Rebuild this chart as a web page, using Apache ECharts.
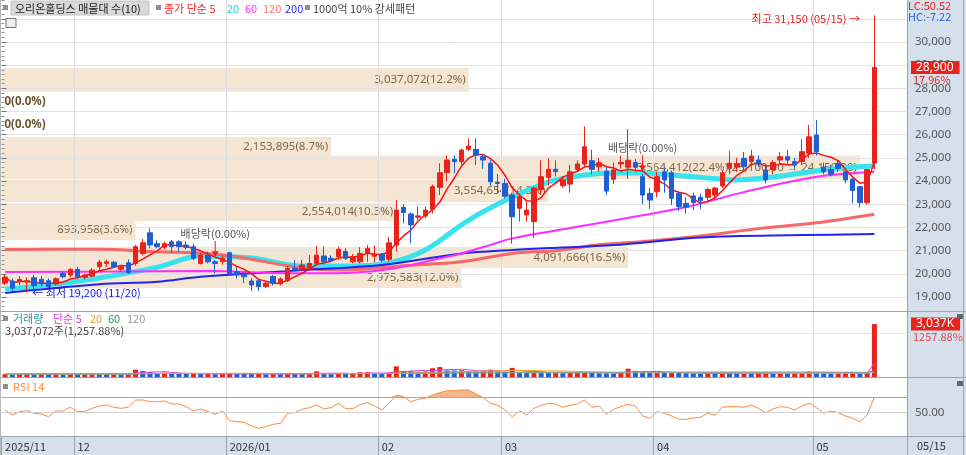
<!DOCTYPE html>
<html>
<head>
<meta charset="utf-8">
<script src="https://cdn.jsdelivr.net/npm/echarts@6.0.0/dist/echarts.min.js"></script>
<style>
html,body{margin:0;padding:0;background:#fff;overflow:hidden}
#chart{width:966px;height:455px}
</style>
</head>
<body>
<div id="chart"></div>
<script>
// ================= DATA =================
const monthLabels = ['2025/11','12','2026/01','02','03','04','05'];
const monthNumbers = [11,12,1,2,3,4,5];
const monthDays = [
  [17,18,19,20,21,24,25,26,27,28],
  [1,2,3,4,5,8,9,10,11,12,15,16,17,18,19,22,23,24,26,29,30],
  [2,5,6,7,8,9,12,13,14,15,16,19,20,21,22,23,26,27,28,29,30],
  [2,3,4,5,6,9,10,11,12,13,19,20,23,24,25,26,27],
  [3,4,5,6,9,10,11,12,13,16,17,18,19,20,23,24,25,26,27,30,31],
  [1,2,3,6,7,8,9,10,13,14,15,16,17,20,21,22,23,24,27,28,29,30],
  [4,6,7,8,11,12,13,14,15]
];
const open = [
19600,19690,19690,19650,19830,19760,19700,19560,20020,19950,
20190,19850,19900,20310,20450,20500,20200,20480,20450,20880,
21770,21300,21150,21380,21380,21240,21170,20450,20810,20520,
20520,20910,20090,20020,19690,19700,19450,19880,19580,19700,
20240,20170,20240,20450,20770,20670,20740,20960,20520,20520,
20880,20760,20850,20630,21240,22870,22580,22440,22490,22780,
23730,24360,24940,24840,25370,25370,25050,24770,23950,23900,
23400,22830,22540,22250,23630,24160,24510,23800,23870,24510,
24740,24880,24620,24430,24080,24740,24600,24800,24190,23470,
23540,24400,24360,23470,23040,23360,23300,23300,23400,23790,
24550,24600,24980,24840,24910,24480,24500,24910,25050,24840,
24840,25200,25990,24600,24500,24770,24400,24080,23760,23070,
24780];
const high = [
19950,19800,19900,19850,19950,19900,19800,19850,20100,20250,
20300,20000,20250,20600,20600,20550,20350,20630,21250,21500,
21960,21450,21400,21460,21450,21400,21300,20900,20950,20600,
20800,20950,20300,20100,19800,19750,19650,19950,19850,20350,
20600,20600,20810,21200,21170,20800,21170,21100,20850,21150,
21240,21230,20900,21600,23180,23000,22650,22900,22900,23850,
24770,25100,25100,25400,25840,25850,25150,24900,24300,24100,
23500,23450,23180,23760,24900,24980,24900,24200,24700,24900,
26360,25350,25000,24600,24800,25100,26250,24950,24300,23700,
24400,24600,24450,23550,23300,23500,23450,23700,23750,24450,
25300,25000,25250,25340,25100,24700,24900,25250,25350,25000,
25800,26420,26640,24800,24700,24900,24450,24150,23800,24500,
31150];
const low = [
19520,19250,19500,19200,19300,19450,19350,19500,19800,19850,
19800,19750,19850,20150,20300,20250,20100,20000,20350,20800,
21100,21100,21050,20900,20950,21050,20600,20400,20450,20020,
20400,19950,19800,19600,19250,19250,19400,19500,19500,19650,
20100,20100,20150,20350,20400,20500,20600,20600,20450,20450,
20520,20500,20500,20520,20950,22180,21310,22300,22400,22600,
23400,24000,24340,24700,25300,24700,24530,23800,23500,23250,
21300,22250,22250,21550,23400,23800,24200,23700,23500,24400,
24600,24280,24400,23400,23870,24550,24100,24400,23000,22800,
23300,23500,22970,22700,22600,22750,22800,23100,23200,23700,
24300,24400,24450,24700,24600,23900,24300,24750,24750,24550,
24700,25000,25100,24300,24200,24400,23900,23040,22870,22980,
24500];
const close = [
19860,19380,19760,19700,19490,19600,19440,19790,19870,20190,
19850,19950,20160,20500,20520,20310,20300,20050,21170,21340,
21240,21170,21300,21170,21170,21140,20670,20810,20520,20450,
20670,20020,19950,19870,19520,19450,19590,19590,19780,20240,
20170,20380,20450,20810,20520,20570,21060,20670,20740,20880,
21100,20850,20590,21340,22750,22640,22110,22500,22750,23760,
24360,24910,24840,25340,25510,25120,24910,23970,23900,23350,
22460,23330,22750,23700,24190,24510,24410,24050,24400,24740,
25480,24510,24790,23570,24480,24810,24900,24600,23400,23180,
24190,24050,23260,22900,22870,23070,23150,23640,23700,24360,
24770,24750,24620,25080,24740,24050,24800,25050,24910,24700,
25270,25910,25270,24400,24300,24550,24050,23590,23070,24500,
28900];
const volume = [
165000,150000,172000,190000,160000,175000,168000,185000,152000,178000,
150000,162000,190000,175000,168000,182000,160000,172000,420000,340000,
290000,230000,250000,205000,192000,180000,195000,170000,185000,160000,
172000,210000,185000,175000,168000,182000,160000,172000,158000,190000,
176000,168000,182000,325000,210000,185000,198000,176000,188000,270000,
275000,220000,180000,240000,610000,340000,330000,300000,320000,500000,
570000,380000,375000,385000,340000,300000,350000,420000,320000,290000,
520000,260000,230000,280000,250000,235000,245000,220000,230000,240000,
280000,230000,215000,205000,195000,220000,475000,350000,300000,240000,
280000,250000,260000,230000,215000,200000,190000,205000,185000,210000,
195000,182000,200000,190000,205000,210000,185000,200000,190000,205000,
220000,300000,290000,230000,210000,220000,240000,250000,220000,241444,
3037072];
const rsi14 = [
53.4,46.6,51.1,52.4,48.9,48.0,44.3,52.0,52.0,57.0,
51.1,51.1,55.6,58.8,60.1,57.0,55.6,57.0,66.9,66.9,
64.6,64.6,65.5,61.5,61.5,57.9,52.0,54.7,51.1,47.5,
52.0,38.9,37.6,36.7,31.8,28.6,30.9,34.0,35.4,48.9,
49.8,54.3,56.5,60.1,54.7,56.5,62.4,55.2,55.2,60.6,
63.3,58.8,53.4,62.4,73.6,71.4,64.6,67.8,69.2,73.6,
76.8,79.5,79.5,80.4,80.4,75.0,70.0,62.4,59.7,53.4,
44.3,52.0,46.6,55.6,59.7,62.4,61.5,57.0,59.7,61.5,
66.9,57.0,58.8,47.5,54.3,57.9,61.0,58.8,45.3,42.1,
51.1,48.9,45.3,40.8,40.8,42.6,43.5,48.9,46.2,57.0,
57.9,57.9,57.0,60.1,55.6,49.8,54.7,57.9,57.0,53.4,
58.8,62.4,56.5,48.9,52.0,49.8,45.3,42.1,37.4,46.6,
71.0];
// moving averages: [candle index, price]
const ma20Pts = [[0,19345],[6,19520],[13,19820],[21,20290],[27,20770],[34,20680],[41,20340],[48,20340],[53,20470],[58,21030],[64,22320],[70,23310],[75,23960],[80,24260],[84,24350],[88,24350],[92,24260],[97,24130],[101,24050],[106,24180],[111,24390],[115,24560],[120,24650]];
const ma60Pts = [[0,20080],[15,20100],[28,20120],[40,20020],[48,20050],[54,20250],[59,20600],[63,20880],[67,21250],[70,21530],[76,21870],[84,22300],[94,22880],[101,23450],[108,23950],[113,24230],[120,24400]];
const ma120Pts = [[0,21050],[13,21060],[21,20950],[27,20900],[32,20740],[41,20250],[47,20170],[55,20350],[63,20520],[70,20880],[76,21000],[82,21250],[89,21420],[96,21630],[104,21950],[112,22200],[120,22570]];
const ma200Pts = [[0,19170],[4,19300],[13,19550],[21,19660],[27,19875],[41,20160],[52,20380],[63,20880],[70,21030],[77,21140],[84,21240],[96,21565],[110,21670],[120,21715]];
// 10% strong-pattern bands: label, upper price, lower price, last candle index
const bandLabels = ['3,037,072(12.2%)','0(0.0%)','0(0.0%)','2,153,895(8.7%)','3,564,412(22.4%)(25,100.00 → 24,150.00)','3,554,654(14.3%)','2,554,014(10.3%)','893,958(3.6%)','4,091,666(16.5%)','2,975,583(12.0%)'];
const bandTop    = [28880,27420,26430,25900,25100,24050,23050,22320,21160,20290];
const bandBottom = [27840,27405,26415,25040,24080,23100,22280,21460,20250,19390];
const bandEnd    = [64,6,6,45,118,75,54,18,86,63];
const dividendDays = [29,88];
const lcText = 'LC:50.52', hcText = 'HC:-7.22';

// ================= BUILD =================
const RED = '#e8231b', BLUE = '#1f5fd1';
const FONT = '"Noto Sans CJK KR", "Noto Sans", sans-serif';
const cats = [];
const monthStart = {};
monthDays.forEach((days, m) => {
  monthStart[cats.length] = monthLabels[m];
  days.forEach(d => cats.push(String(monthNumbers[m]).padStart(2,'0') + '/' + String(d).padStart(2,'0')));
});
const N = close.length;
const PAD = 4;
for (let k = 1; k <= PAD; k++) cats.push(' '.repeat(k));
const isMonth = i => Object.prototype.hasOwnProperty.call(monthStart, i);
const fmt = v => Math.round(v).toLocaleString('en-US');

function sma(arr, n) {
  return arr.map((_, i) => {
    const s = arr.slice(Math.max(0, i - n + 1), i + 1);
    return Math.round(s.reduce((a, b) => a + b, 0) / s.length);
  });
}
const ma5 = sma(close, 5);
const ohlc = open.map((o, i) => [o, close[i], low[i], high[i]]);
const volData = volume.map((v, i) => ({ value: v, itemStyle: { color: (i > 0 && v < volume[i-1]) ? BLUE : RED } }));

let hiIdx = 0, loIdx = 0;
high.forEach((h, i) => { if (h > high[hiIdx]) hiIdx = i; });
low.forEach((l, i) => { if (l < low[loIdx]) loIdx = i; });
const chgPct = ((close[N-1] / close[N-2] - 1) * 100).toFixed(2) + '%';
const volPct = (volume[N-1] / volume[N-2] * 100);
const volPctTxt = volPct.toFixed(2);

const bandData = bandLabels.map((lab, k) => [
  { xAxis: 0, yAxis: bandTop[k], name: lab, label: lab.startsWith('0(') ? { fontWeight: 'bold', color: '#6a5530' } : undefined },
  { xAxis: bandEnd[k] + 0.5, yAxis: bandBottom[k] }
]);

const arrowDown = 'path://M3.4,0 L4.6,0 L4.6,9 L8,9 L4,14 L0,9 L3.4,9 Z';
const mpData = [
  { coord: [hiIdx, high[hiIdx]], symbol: 'rect', symbolSize: 1, itemStyle: { color: 'rgba(0,0,0,0)' },
    label: { show: true, position: 'left', distance: 14, offset: [0, 3], color: RED, fontSize: 11, fontFamily: FONT,
      formatter: '최고 ' + fmt(high[hiIdx]) + ' (' + cats[hiIdx] + ') →' } },
  { coord: [loIdx, low[loIdx]], symbol: 'rect', symbolSize: 1, itemStyle: { color: 'rgba(0,0,0,0)' },
    label: { show: true, position: 'right', distance: 5, color: '#1414e0', fontSize: 11, fontFamily: FONT,
      formatter: '← 최저 ' + fmt(low[loIdx]) + ' (' + cats[loIdx] + ')' } }
];
dividendDays.forEach(d => mpData.push({
  coord: [d, high[d]], symbol: arrowDown, symbolSize: [7, 16], symbolOffset: [0, -11], itemStyle: { color: RED },
  label: { show: true, position: 'top', distance: 2, color: '#555', fontSize: 11, fontFamily: FONT, formatter: '배당락(0.00%)' }
}));

function catAxis(gridIndex, labels) {
  return {
    type: 'category', gridIndex, data: cats, boundaryGap: true, z: 2,
    axisLine: { show: false },
    axisTick: labels ? { show: true, interval: (i) => isMonth(i), length: 19, lineStyle: { color: '#9aa3ad' } } : { show: false },
    axisLabel: labels ? { show: true, interval: (i) => isMonth(i), formatter: (v, i) => monthStart[i] || '', align: 'left', color: '#333', fontSize: 11, margin: 5, fontFamily: FONT } : { show: false },
    splitLine: { show: true, interval: (i) => isMonth(i) && i > 0, lineStyle: { color: '#dcdcdc' } }
  };
}
const gridColors = ['rgba(0,0,0,0)'];
for (let k = 0; k < 14; k++) gridColors.push('#e3e3e3');

function lineSeries(name, data, color, width, extra) {
  return Object.assign({ type: 'line', name, xAxisIndex: 0, yAxisIndex: 0, data, symbol: 'none', silent: true, z: 3,
    lineStyle: { color, width }, itemStyle: { color } }, extra || {});
}

const volMA = [[5,'#e13de1'],[20,'#f0a020'],[60,'#2a9a50'],[120,'#a8a8a8']].map(([n, c]) => ({
  type: 'line', xAxisIndex: 1, yAxisIndex: 1, data: sma(volume, n), symbol: 'none', silent: true, z: 4,
  lineStyle: { color: c, width: 1 }
}));

const T = (x, y, text, color, extra) => Object.assign({ type: 'text', x, y, z: 50, silent: true,
  style: Object.assign({ text, fill: color, font: '11px ' + FONT, verticalAlign: 'middle', textVerticalAlign: 'middle' }, extra || {}) });
const R = (x, y, w, h, fill, z, stroke) => ({ type: 'rect', z: (z === undefined ? 50 : z), silent: true, shape: { x, y, width: w, height: h }, style: { fill, stroke: stroke || null } });
const L = (x1, y1, x2, y2, c) => ({ type: 'line', z: 40, silent: true, shape: { x1, y1, x2, y2 }, style: { stroke: c || '#9ca3ab', lineWidth: 1 } });

const graphics = [
  R(907, 0, 59, 455, '#d6e0ed', -10),
  R(0, 436.5, 966, 19, '#d6e0ed', -10),
  L(0, 311.5, 966, 311.5), L(0, 377.5, 966, 377.5), L(0, 436.5, 966, 436.5),
  L(907.5, 0, 907.5, 455), L(963.5, 0, 963.5, 455), L(0.5, 0, 0.5, 455, '#b8b8b8'),
  // top legend
  R(3, 5, 5, 5, '#8f8f8f'), R(11, 1, 138, 14, '#d9d9d9', 49, '#c4c4c4'),
  T(15, 8.5, '오리온홀딩스 매물대 수(10)', '#222'),
  R(156, 5, 5, 5, '#8f8f8f'),
  T(164, 8.5, '종가 단순 5', '#ff2020'), T(227, 8.5, '20', '#19d7e6'), T(245, 8.5, '60', '#ff2bff'),
  T(263, 8.5, '120', '#ff7070'), T(285, 8.5, '200', '#2a2aff'),
  R(305, 5, 5, 5, '#8f8f8f'), T(313, 8.5, '1000억 10% 강세패턴', '#444'),
  R(6, 18.5, 10, 9, '#eeeeee', 50, '#777'),
  // volume legend
  R(3, 316, 5, 5, '#8f8f8f'),
  T(13, 318.5, '거래량', '#2b9b9b'), T(53, 318.5, '단순 5', '#e13de1'), T(90, 318.5, '20', '#f0a020'),
  T(108, 318.5, '60', '#2a9a50'), T(127, 318.5, '120', '#999'),
  T(5, 330.5, fmt(volume[N-1]) + '주(' + volPct.toLocaleString('en-US', { minimumFractionDigits: 2, maximumFractionDigits: 2 }) + '%)', '#444'),
  // rsi legend
  R(3, 384, 5, 5, '#8f8f8f'), T(13, 387, 'RSI 14', '#ff8c3a'),
  // right side
  T(908, 6, lcText, RED), T(908, 16.5, hcText, '#2b63d6'),
  T(913, 79.5, chgPct, RED),
  T(913, 336.5, volPctTxt + '%', '#e84a4a'),
  R(957, 314, 6, 5, '#666'), R(957, 381, 6, 5, '#666'),
  T(917, 446, cats[N-1], '#333')
];

const boxLabel = (text) => ({ show: true, position: 'end', distance: 4, formatter: text, backgroundColor: RED, color: '#fff',
  padding: [1, 6, 0, 5], fontSize: 12, fontFamily: 'Noto Sans' });

const option = {
  animation: false,
  backgroundColor: '#ffffff',
  textStyle: { fontFamily: FONT },
  grid: [
    { left: 1.5, width: 905.5, top: -4.36, height: 324.56, outerBoundsMode: 'none', containLabel: false },
    { left: 1.5, width: 905.5, top: 311, height: 66, outerBoundsMode: 'none', containLabel: false },
    { left: 1.5, width: 905.5, top: 378, height: 58, outerBoundsMode: 'none', containLabel: false }
  ],
  xAxis: [
    catAxis(0, false), catAxis(1, false), catAxis(2, true),
    { type: 'value', gridIndex: 0, min: 0, max: cats.length, show: false }
  ],
  yAxis: [
    { type: 'value', gridIndex: 0, position: 'right', min: 18000, max: 32000, interval: 1000, z: 2,
      axisLine: { show: false },
      axisTick: { show: true, length: 5, lineStyle: { color: '#6b7380' } },
      minorTick: { show: true, splitNumber: 5, length: 3, lineStyle: { color: '#8a929c' } },
      axisLabel: { show: true, margin: 8, color: '#555', fontSize: 11.5, fontFamily: 'Noto Sans',
        formatter: (v) => (v >= 19000 && v <= 30000) ? fmt(v) : '' },
      splitLine: { show: true, lineStyle: { color: gridColors } } },
    { type: 'value', gridIndex: 1, position: 'right', min: 0, max: 3780000, interval: 2500000,
      axisLine: { show: false }, axisTick: { show: false }, axisLabel: { show: false },
      splitLine: { show: true, lineStyle: { color: '#e6e6e6' } } },
    { type: 'value', gridIndex: 2, position: 'right', min: 18.2, max: 96.6,
      axisLine: { show: false }, axisTick: { show: false }, axisLabel: { show: false }, splitLine: { show: false } }
  ],
  graphic: { elements: graphics },
  series: [
    { type: 'line', name: 'bands', xAxisIndex: 3, yAxisIndex: 0, data: [[-5, 20000]], symbol: 'none', silent: true, z: 1,
      lineStyle: { opacity: 0 },
      markArea: { silent: true, itemStyle: { color: '#f4e6d3' },
        label: { show: true, position: 'insideRight', distance: 3, color: '#7d6946', fontSize: 11.5, fontFamily: 'Noto Sans' },
        data: bandData } },
    lineSeries('MA20', ma20Pts, '#36e3ee', 5, { smooth: 0.35 }),
    lineSeries('MA120', ma120Pts, '#f86868', 3, { smooth: 0.35 }),
    lineSeries('MA200', ma200Pts, '#2323ee', 2, { smooth: 0.35 }),
    lineSeries('MA60', ma60Pts, '#ff2bff', 2, { smooth: 0.35 }),
    lineSeries('MA5', ma5, '#ff1010', 1.5, {}),
    { type: 'candlestick', name: 'price', xAxisIndex: 0, yAxisIndex: 0, data: ohlc, barWidth: 5, z: 4, silent: true,
      itemStyle: { color: RED, color0: BLUE, borderColor: RED, borderColor0: BLUE, borderWidth: 1 },
      markPoint: { silent: true, data: mpData },
      markLine: { silent: true, symbol: 'none', lineStyle: { color: 'rgba(0,0,0,0)', width: 1 },
        label: boxLabel(fmt(close[N-1])),
        data: [{ yAxis: close[N-1] }] } },
    { type: 'bar', name: 'volume', xAxisIndex: 1, yAxisIndex: 1, data: volData, barWidth: 5, z: 3, silent: true,
      markLine: { silent: true, symbol: 'none', lineStyle: { color: 'rgba(0,0,0,0)', width: 1 },
        label: boxLabel(fmt(volume[N-1] / 1000) + 'K'),
        data: [{ yAxis: volume[N-1] }] } },
    ...volMA,
    { type: 'line', xAxisIndex: 2, yAxisIndex: 2, stack: 'ob', data: rsi14.map(() => 70), symbol: 'none', silent: true,
      lineStyle: { opacity: 0 }, z: 1 },
    { type: 'line', xAxisIndex: 2, yAxisIndex: 2, stack: 'ob', data: rsi14.map(v => Math.max(0, v - 70)), symbol: 'none', silent: true,
      lineStyle: { opacity: 0 }, areaStyle: { color: '#f6b68c', opacity: 1 }, z: 2 },
    { type: 'line', name: 'RSI', xAxisIndex: 2, yAxisIndex: 2, data: rsi14, symbol: 'none', silent: true, z: 3,
      lineStyle: { color: '#ff8a3a', width: 1 },
      markLine: { silent: true, symbol: 'none',
        label: { show: false },
        data: [
          { yAxis: 70, lineStyle: { color: '#a6a6a6', type: 'solid', width: 1 } },
          { yAxis: 50, lineStyle: { color: '#d2d2d2', type: 'solid', width: 1 },
            label: { show: true, position: 'end', distance: 8, formatter: '50.00', color: '#555', fontSize: 11.5, fontFamily: 'Noto Sans' } }
        ] } }
  ]
};

const chart = echarts.init(document.getElementById('chart'), null, { renderer: 'canvas', width: 966, height: 455 });
chart.setOption(option);
</script>
</body>
</html>
